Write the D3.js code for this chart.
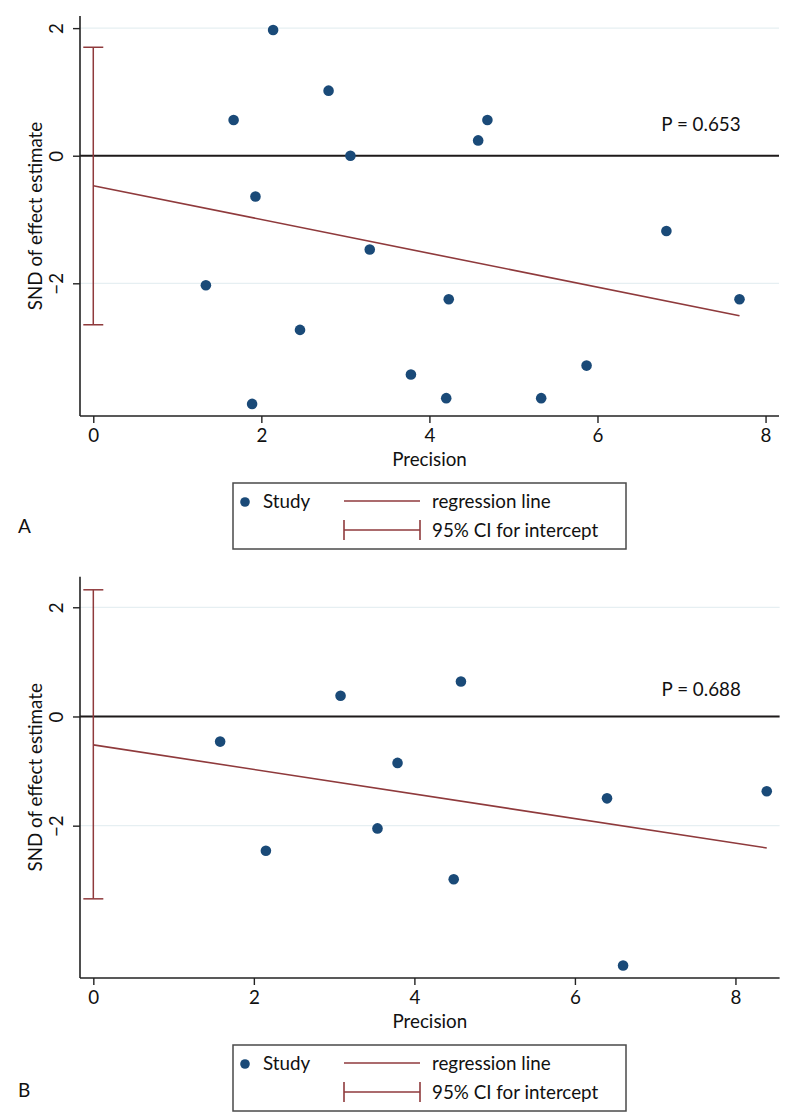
<!DOCTYPE html>
<html>
<head>
<meta charset="utf-8">
<script src="https://cdn.jsdelivr.net/npm/d3@7"></script>
<style>
  html, body { margin: 0; padding: 0; background: #fff; }
  svg { display: block; font-family: Lato, "Open Sans", sans-serif; }
</style>
</head>
<body>
<svg id="chart" width="800" height="1116"></svg>
<script>
// ---------- Data ----------
// Panel A
const precisionA = [2.14, 2.80, 1.67, 3.06, 1.93, 3.29, 1.34, 4.69, 4.58, 6.82, 4.23, 7.69, 3.78, 5.87, 4.20, 5.33, 2.46, 1.89];
const sndA       = [1.97, 1.02, 0.56, 0.00, -0.64, -1.47, -2.03, 0.56, 0.24, -1.18, -2.25, -2.25, -3.43, -3.29, -3.80, -3.80, -2.73, -3.89];
const interceptA = -0.47;
const slopeA = -0.265;
const ciA = [-2.65, 1.70];
const pLabelA = "P = 0.653";

// Panel B
const precisionB = [3.08, 1.58, 3.79, 3.54, 2.15, 4.58, 6.40, 8.39, 4.49, 6.60];
const sndB       = [0.38, -0.46, -0.85, -2.05, -2.46, 0.64, -1.50, -1.37, -2.98, -4.56];
const interceptB = -0.52;
const slopeB = -0.225;
const ciB = [-3.34, 2.32];
const pLabelB = "P = 0.688";

const xTicks = [0, 2, 4, 6, 8];
const yTicks = [-2, 0, 2];
const xTitle = "Precision";
const yTitle = "SND of effect estimate";
const legendLabels = ["Study", "regression line", "95% CI for intercept"];
const panelLabels = ["A", "B"];

// ---------- Styles ----------
const dotColor = "#1a4a78";
const redColor = "#8f3a3c";
const gridColor = "#e6eff2";
const fontSize = 18.8;

const svg = d3.select("#chart");
const fmt = v => (v < 0 ? "\u2212" + Math.abs(v) : String(v));

function drawPanel(cfg) {
  const { xs, ys, xDomain, yDomain, left, right, top, bottom, intercept, slope, ci, pLabel, pPos, label, labelY } = cfg;
  const x = d3.scaleLinear().domain(xDomain).range([left, right]);
  const y = d3.scaleLinear().domain(yDomain).range([bottom, top]);
  const g = svg.append("g");

  // gridlines
  g.selectAll("line.grid").data(yTicks).join("line")
    .attr("x1", left).attr("x2", right)
    .attr("y1", d => y(d)).attr("y2", d => y(d))
    .attr("stroke", gridColor).attr("stroke-width", 1.2);

  // zero line
  g.append("line")
    .attr("x1", left).attr("x2", right)
    .attr("y1", y(0)).attr("y2", y(0))
    .attr("stroke", "#1e1a1a").attr("stroke-width", 2);

  // axes
  const xAxis = d3.axisBottom(x).tickValues(xTicks).tickSize(7).tickPadding(6).tickFormat(fmt);
  const gx = g.append("g").attr("transform", `translate(0,${bottom})`).call(xAxis);
  gx.select(".domain").attr("d", `M${left},0H${right}`).attr("stroke", "#222").attr("stroke-width", 1.6);
  gx.selectAll(".tick line").attr("stroke", "#222").attr("stroke-width", 1.4);
  gx.selectAll(".tick text").attr("font-size", fontSize).attr("fill", "#111")
    .attr("font-family", "Lato, sans-serif");

  const yAxis = d3.axisLeft(y).tickValues(yTicks).tickSize(7).tickFormat(fmt);
  const gy = g.append("g").attr("transform", `translate(${left},0)`).call(yAxis);
  gy.select(".domain").attr("d", `M0,${top}V${bottom}`).attr("stroke", "#222").attr("stroke-width", 1.6);
  gy.selectAll(".tick line").attr("stroke", "#222").attr("stroke-width", 1.4);
  gy.selectAll(".tick text")
    .attr("font-size", fontSize).attr("fill", "#111").attr("font-family", "Lato, sans-serif")
    .attr("x", null).attr("dy", null)
    .attr("text-anchor", "middle")
    .attr("transform", "translate(-17,0) rotate(-90)");

  // axis titles
  g.append("text").attr("x", (left + right) / 2).attr("y", bottom + 50)
    .attr("text-anchor", "middle").attr("font-size", fontSize).attr("fill", "#111").text(xTitle);
  g.append("text")
    .attr("transform", `translate(42,${(top + bottom) / 2}) rotate(-90)`)
    .attr("text-anchor", "middle").attr("font-size", fontSize).attr("fill", "#111").text(yTitle);

  // CI for intercept
  const capW = 10;
  g.append("line").attr("x1", x(0)).attr("x2", x(0)).attr("y1", y(ci[0])).attr("y2", y(ci[1]))
    .attr("stroke", redColor).attr("stroke-width", 1.5);
  g.selectAll("line.cap").data(ci).join("line")
    .attr("x1", x(0) - capW).attr("x2", x(0) + capW)
    .attr("y1", d => y(d)).attr("y2", d => y(d))
    .attr("stroke", redColor).attr("stroke-width", 1.5);

  // regression line
  const xMax = d3.max(xs);
  g.append("line")
    .attr("x1", x(0)).attr("y1", y(intercept))
    .attr("x2", x(xMax)).attr("y2", y(intercept + slope * xMax))
    .attr("stroke", redColor).attr("stroke-width", 1.6);

  // points
  g.selectAll("circle.pt").data(xs.map((v, i) => [v, ys[i]])).join("circle")
    .attr("cx", d => x(d[0])).attr("cy", d => y(d[1])).attr("r", 5.3)
    .attr("fill", dotColor);

  // P label
  g.append("text").attr("x", x(pPos[0])).attr("y", y(pPos[1]))
    .attr("font-size", fontSize).attr("fill", "#111").text(pLabel);

  // legend
  const lx = 233, ly = bottom + 67, lw = 393, lh = 66;
  const lg = g.append("g");
  lg.append("rect").attr("x", lx).attr("y", ly).attr("width", lw).attr("height", lh)
    .attr("fill", "#fff").attr("stroke", "#4a4a4a").attr("stroke-width", 1.5);
  lg.append("circle").attr("cx", lx + 12).attr("cy", ly + 19).attr("r", 4.8).attr("fill", dotColor);
  lg.append("text").attr("x", lx + 30).attr("y", ly + 25).attr("font-size", fontSize).attr("fill", "#111").text(legendLabels[0]);
  lg.append("line").attr("x1", lx + 111).attr("x2", lx + 187).attr("y1", ly + 18).attr("y2", ly + 18)
    .attr("stroke", redColor).attr("stroke-width", 1.6);
  lg.append("text").attr("x", lx + 199).attr("y", ly + 25).attr("font-size", fontSize).attr("fill", "#111").text(legendLabels[1]);
  const cy2 = ly + 47;
  lg.append("line").attr("x1", lx + 111).attr("x2", lx + 187).attr("y1", cy2).attr("y2", cy2)
    .attr("stroke", redColor).attr("stroke-width", 1.6);
  [lx + 111, lx + 187].forEach(cx => lg.append("line").attr("x1", cx).attr("x2", cx)
    .attr("y1", cy2 - 10).attr("y2", cy2 + 10).attr("stroke", redColor).attr("stroke-width", 1.6));
  lg.append("text").attr("x", lx + 199).attr("y", ly + 54).attr("font-size", fontSize).attr("fill", "#111").text(legendLabels[2]);

  // panel label
  g.append("text").attr("x", 18).attr("y", labelY).attr("font-size", 19).attr("fill", "#111").text(label);
}

drawPanel({
  xs: precisionA, ys: sndA,
  xDomain: [-0.158, 8.16], yDomain: [-4.08, 2.19],
  left: 80, right: 779, top: 16, bottom: 416,
  intercept: interceptA, slope: slopeA, ci: ciA,
  pLabel: pLabelA, pPos: [6.76, 0.38],
  label: panelLabels[0], labelY: 533
});

drawPanel({
  xs: precisionB, ys: sndB,
  xDomain: [-0.166, 8.55], yDomain: [-4.79, 2.56],
  left: 80, right: 779.6, top: 576.7, bottom: 978,
  intercept: interceptB, slope: slopeB, ci: ciB,
  pLabel: pLabelB, pPos: [7.08, 0.38],
  label: panelLabels[1], labelY: 1097
});
</script>
</body>
</html>
